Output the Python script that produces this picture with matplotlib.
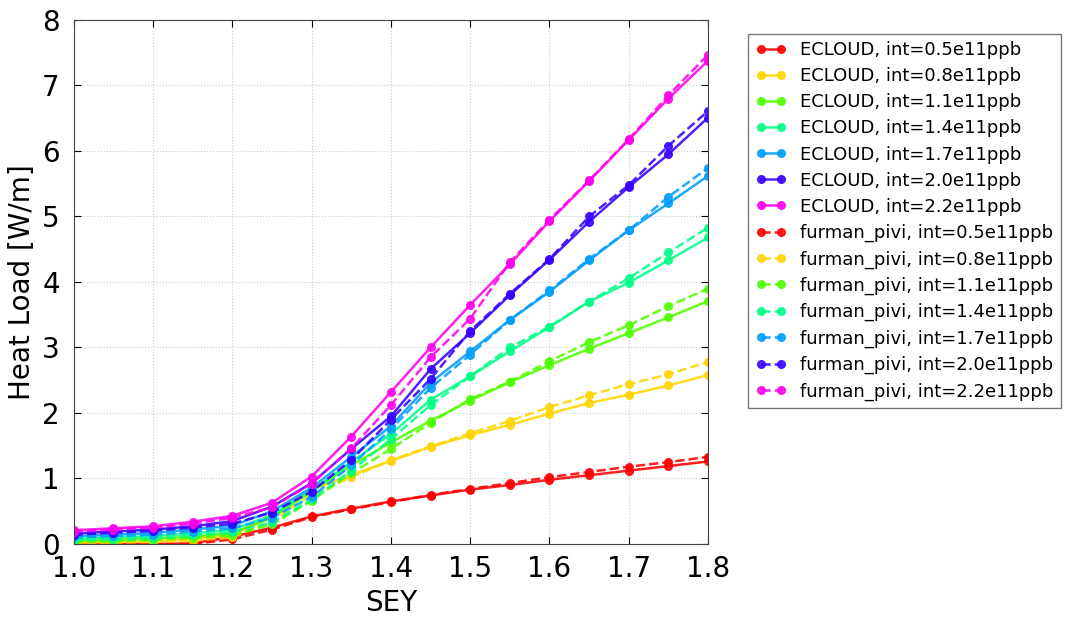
import numpy as np
import matplotlib
matplotlib.use('Agg')
import matplotlib.pyplot as plt

# SEY scan
sey = [1.0, 1.05, 1.1, 1.15, 1.2, 1.25, 1.3, 1.35, 1.4, 1.45, 1.5, 1.55, 1.6, 1.65, 1.7, 1.75, 1.8]
intensities = ['0.5', '0.8', '1.1', '1.4', '1.7', '2.0', '2.2']

# heat load [W/m], ECLOUD
ecloud_05 = [0.00, 0.00, 0.00, 0.01, 0.11, 0.25, 0.42, 0.54, 0.65, 0.74, 0.83, 0.90, 0.98, 1.05, 1.12, 1.19, 1.26]
ecloud_08 = [0.02, 0.03, 0.04, 0.07, 0.14, 0.42, 0.83, 1.05, 1.27, 1.48, 1.66, 1.82, 1.99, 2.15, 2.28, 2.42, 2.58]
ecloud_11 = [0.05, 0.06, 0.08, 0.11, 0.17, 0.40, 0.80, 1.20, 1.55, 1.88, 2.19, 2.47, 2.73, 2.98, 3.22, 3.46, 3.71]
ecloud_14 = [0.08, 0.10, 0.12, 0.16, 0.22, 0.44, 0.82, 1.25, 1.68, 2.20, 2.56, 2.94, 3.31, 3.70, 3.99, 4.33, 4.68]
ecloud_17 = [0.12, 0.14, 0.17, 0.22, 0.28, 0.50, 0.86, 1.33, 1.80, 2.46, 2.94, 3.42, 3.85, 4.33, 4.79, 5.20, 5.62]
ecloud_20 = [0.16, 0.19, 0.22, 0.27, 0.35, 0.57, 0.93, 1.45, 1.95, 2.67, 3.22, 3.80, 4.34, 4.92, 5.45, 5.95, 6.51]
ecloud_22 = [0.21, 0.24, 0.27, 0.34, 0.43, 0.63, 1.03, 1.64, 2.32, 3.00, 3.65, 4.27, 4.93, 5.54, 6.17, 6.80, 7.38]

# heat load [W/m], furman_pivi
furman_05 = [0.00, 0.00, 0.00, 0.00, 0.07, 0.22, 0.41, 0.53, 0.64, 0.75, 0.84, 0.93, 1.02, 1.10, 1.18, 1.25, 1.33]
furman_08 = [0.01, 0.02, 0.03, 0.05, 0.10, 0.35, 0.75, 1.02, 1.28, 1.49, 1.69, 1.88, 2.09, 2.27, 2.44, 2.59, 2.78]
furman_11 = [0.03, 0.04, 0.06, 0.09, 0.13, 0.30, 0.66, 1.08, 1.45, 1.85, 2.21, 2.48, 2.79, 3.08, 3.34, 3.63, 3.90]
furman_14 = [0.06, 0.07, 0.09, 0.13, 0.18, 0.33, 0.68, 1.12, 1.60, 2.12, 2.56, 3.00, 3.32, 3.70, 4.06, 4.45, 4.83]
furman_17 = [0.10, 0.12, 0.14, 0.19, 0.24, 0.40, 0.72, 1.20, 1.75, 2.38, 2.89, 3.42, 3.87, 4.35, 4.79, 5.30, 5.74]
furman_20 = [0.14, 0.17, 0.20, 0.25, 0.31, 0.48, 0.80, 1.28, 1.90, 2.52, 3.25, 3.82, 4.35, 5.00, 5.48, 6.08, 6.61]
furman_22 = [0.19, 0.22, 0.25, 0.31, 0.40, 0.56, 0.92, 1.46, 2.12, 2.85, 3.44, 4.30, 4.95, 5.55, 6.18, 6.85, 7.47]

ecloud = [ecloud_05, ecloud_08, ecloud_11, ecloud_14, ecloud_17, ecloud_20, ecloud_22]
furman = [furman_05, furman_08, furman_11, furman_14, furman_17, furman_20, furman_22]

fig = plt.figure(figsize=(10.68, 6.2), dpi=100)
ax = fig.add_axes([0.069, 0.1226, 0.594, 0.8452])

colors = [plt.cm.hsv(i / 7.) for i in range(len(intensities))]

for ii, inten in enumerate(intensities):
    ax.plot(sey, ecloud[ii], '.-', color=colors[ii], lw=1.8, ms=11, alpha=0.88,
            label='ECLOUD, int=%se11ppb' % inten)
for ii, inten in enumerate(intensities):
    ax.plot(sey, furman[ii], '.--', color=colors[ii], lw=1.8, ms=11, alpha=0.88,
            label='furman_pivi, int=%se11ppb' % inten)

ax.set_xlim(1.0, 1.8)
ax.set_ylim(0, 8)
ax.set_xticks(np.arange(1.0, 1.81, 0.1))
ax.set_xlabel('SEY', fontsize=20)
ax.set_ylabel('Heat Load [W/m]', fontsize=20)
ax.tick_params(labelsize=20, direction='in', top=True, right=True, length=5)
ax.tick_params(axis='x', pad=8)
ax.tick_params(axis='y', pad=10)
ax.grid(True, linestyle=':', color='#cccccc')
for sp in ax.spines.values():
    sp.set_color('#444444')

fig.legend(loc='upper left', bbox_to_anchor=(0.692, 0.96), fontsize=13,
           numpoints=2, handlelength=1.7, fancybox=False, edgecolor='#555555',
           labelspacing=0.45)

fig.savefig('out.png', dpi=100)
